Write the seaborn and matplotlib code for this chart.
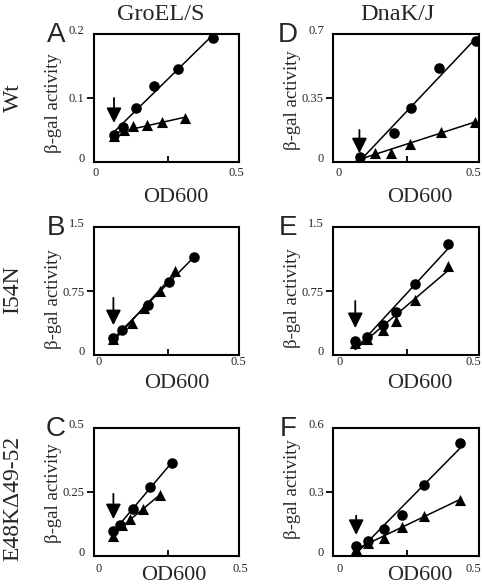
import matplotlib.pyplot as plt
import seaborn as sns

# Data, OD600 vs beta-gal activity
# circles / triangles for each panel
a_circ_x = [0.069, 0.098, 0.143, 0.204, 0.284, 0.403]
a_circ_y = [0.042, 0.055, 0.085, 0.119, 0.145, 0.194]
a_tri_x = [0.069, 0.103, 0.134, 0.179, 0.232, 0.308]
a_tri_y = [0.040, 0.050, 0.056, 0.058, 0.062, 0.068]

b_circ_x = [0.067, 0.097, 0.183, 0.254, 0.338]
b_circ_y = [0.203, 0.293, 0.586, 0.852, 1.152]
b_tri_x = [0.067, 0.129, 0.170, 0.224, 0.274]
b_tri_y = [0.190, 0.379, 0.547, 0.750, 0.985]

c_circ_x = [0.067, 0.088, 0.132, 0.191, 0.263]
c_circ_y = [0.098, 0.120, 0.183, 0.269, 0.363]
c_tri_x = [0.064, 0.095, 0.124, 0.166, 0.224]
c_tri_y = [0.077, 0.122, 0.143, 0.184, 0.237]

d_circ_x = [0.091, 0.205, 0.261, 0.357, 0.483]
d_circ_y = [0.026, 0.157, 0.294, 0.512, 0.662]
d_tri_x = [0.088, 0.140, 0.196, 0.258, 0.365, 0.478]
d_tri_y = [0.020, 0.051, 0.051, 0.098, 0.166, 0.220]

e_circ_x = [0.075, 0.115, 0.168, 0.211, 0.275, 0.388]
e_circ_y = [0.164, 0.208, 0.352, 0.508, 0.829, 1.298]
e_tri_x = [0.075, 0.115, 0.168, 0.211, 0.275, 0.388]
e_tri_y = [0.137, 0.188, 0.293, 0.399, 0.645, 1.043]

f_circ_x = [0.078, 0.117, 0.173, 0.233, 0.307, 0.427]
f_circ_y = [0.047, 0.068, 0.126, 0.194, 0.331, 0.528]
f_tri_x = [0.078, 0.117, 0.173, 0.233, 0.307, 0.427]
f_tri_y = [0.032, 0.063, 0.086, 0.137, 0.189, 0.263]

# y axis ranges and tick labels
y_max = {"A": 0.2, "B": 1.5, "C": 0.5, "D": 0.7, "E": 1.5, "F": 0.6}
y_labels = {"A": ["0", "0.1", "0.2"], "B": ["0", "0.75", "1.5"],
            "C": ["0", "0.25", "0.5"], "D": ["0", "0.35", "0.7"],
            "E": ["0", "0.75", "1.5"], "F": ["0", "0.3", "0.6"]}

# arrows marking the shift point: x, top, tip
arrows = {"A": (0.069, 0.100, 0.061), "B": (0.067, 0.67, 0.35),
          "C": (0.067, 0.243, 0.144), "D": (0.089, 0.175, 0.048),
          "E": (0.075, 0.633, 0.316), "F": (0.078, 0.189, 0.099)}

series = {
    "A": (a_circ_x, a_circ_y, a_tri_x, a_tri_y),
    "B": (b_circ_x, b_circ_y, b_tri_x, b_tri_y),
    "C": (c_circ_x, c_circ_y, c_tri_x, c_tri_y),
    "D": (d_circ_x, d_circ_y, d_tri_x, d_tri_y),
    "E": (e_circ_x, e_circ_y, e_tri_x, e_tri_y),
    "F": (f_circ_x, f_circ_y, f_tri_x, f_tri_y),
}

col_titles = ["GroEL/S", "DnaK/J"]
row_titles = ["Wt", "I54N", "E48KΔ49-52"]

sns.set_style("ticks")
plt.rcParams["font.family"] = ["Liberation Serif", "DejaVu Serif"]

W, H = 482, 585
fig = plt.figure(figsize=(W / 100, H / 100), dpi=100)

# axes boxes in pixels: left, top
col_left = [93.5, 333]
row_top = [34, 227, 428]
box_w, box_h = 145.5, 128

# per panel: xlabel y center (px below axis), x ticklabel offset (px), ylabel y frac
xlab_off = [35, 28, 19]
xtick_off = [11, 7, 13]
ylab_y = {"A": 0.46, "B": 0.44, "C": 0.49, "D": 0.48, "E": 0.445, "F": 0.52}
zero_pos = {"A": 0.013, "B": 0.035, "C": 0.032, "D": 0.037, "E": 0.047, "F": 0.047}
half_pos = {"A": 0.482, "B": 0.488, "C": 0.495, "D": 0.472, "E": 0.472, "F": 0.472}
xlab_x = {"A": 0.567, "B": 0.574, "C": 0.55, "D": 0.60, "E": 0.60, "F": 0.60}

panels = [["A", "B", "C"], ["D", "E", "F"]]

for ci in range(2):
    for ri in range(3):
        key = panels[ci][ri]
        left = col_left[ci]
        top = row_top[ri]
        ax = fig.add_axes([left / W, 1 - (top + box_h) / H, box_w / W, box_h / H])
        cx, cy, tx, ty = series[key]
        sns.regplot(x=cx, y=cy, ax=ax, ci=None, truncate=True, color="k",
                    marker="o", scatter_kws={"s": 58, "linewidths": 0, "alpha": 1},
                    line_kws={"lw": 1.1})
        sns.regplot(x=tx, y=ty, ax=ax, ci=None, truncate=True, color="k",
                    marker="^", scatter_kws={"s": 64, "linewidths": 0, "alpha": 1},
                    line_kws={"lw": 1.1})

        ax.set_xlim(0, 0.49)
        ax.set_ylim(0, y_max[key])
        for sp in ax.spines.values():
            sp.set_visible(True)
            sp.set_linewidth(1.5)
            sp.set_color("k")

        # x: only an inward tick at 0.25, end labels as text
        ax.set_xticks([0.25])
        ax.set_xticklabels([""])
        ax.tick_params(axis="x", direction="in", length=4, width=1.3, color="k")
        off = xtick_off[ri] / box_h
        ax.text(zero_pos[key], -off, "0", transform=ax.transAxes,
                ha="center", va="center", fontsize=9)
        ax.text(half_pos[key] / 0.49, -off, "0.5", transform=ax.transAxes,
                ha="center", va="center", fontsize=9)

        # y: ticks at 0, middle, top; only middle has a mark
        ym = y_max[key]
        ax.set_yticks([0, ym / 2, ym])
        labs = ax.set_yticklabels(y_labels[key], fontsize=9)
        ax.tick_params(axis="y", direction="out", length=5, width=1.3, pad=1.5, color="k")
        yt = ax.yaxis.get_major_ticks()
        yt[0].tick1line.set_visible(False)
        yt[2].tick1line.set_visible(False)
        labs[0].set_verticalalignment("baseline")
        labs[2].set_verticalalignment("baseline")

        ax.set_xlabel("OD600", fontsize=16, va="center")
        ax.xaxis.set_label_coords(xlab_x[key], -xlab_off[ri] / box_h)
        ax.set_ylabel("β-gal activity", fontsize=13.5, va="center", ha="center")
        ax.yaxis.set_label_coords(-0.278, ylab_y[key])

        axx, atop, atip = arrows[key]
        ax.annotate("", xy=(axx, atip), xytext=(axx, atop),
                    arrowprops=dict(arrowstyle="-|>,head_length=0.7,head_width=0.35",
                                    color="k", lw=1.3, mutation_scale=13,
                                    shrinkA=0, shrinkB=0))

        # panel letter
        lx = left - (37.5 if ci == 0 else 45)
        fig.text(lx / W, 1 - (top + 1) / H, key, fontsize=20,
                 family="Liberation Sans", ha="center", va="center")

# column and row titles
fig.text(160.5 / W, 1 - 15 / H, col_titles[0], fontsize=17.5, ha="center", va="center")
fig.text(397 / W, 1 - 15 / H, col_titles[1], fontsize=17.5, ha="center", va="center")
for text, yc in zip(row_titles, [97.5, 290, 498]):
    fig.text(13 / W, 1 - yc / H, text, fontsize=17, rotation=90,
             ha="center", va="center")

fig.savefig("out.png", dpi=100)
plt.close()
